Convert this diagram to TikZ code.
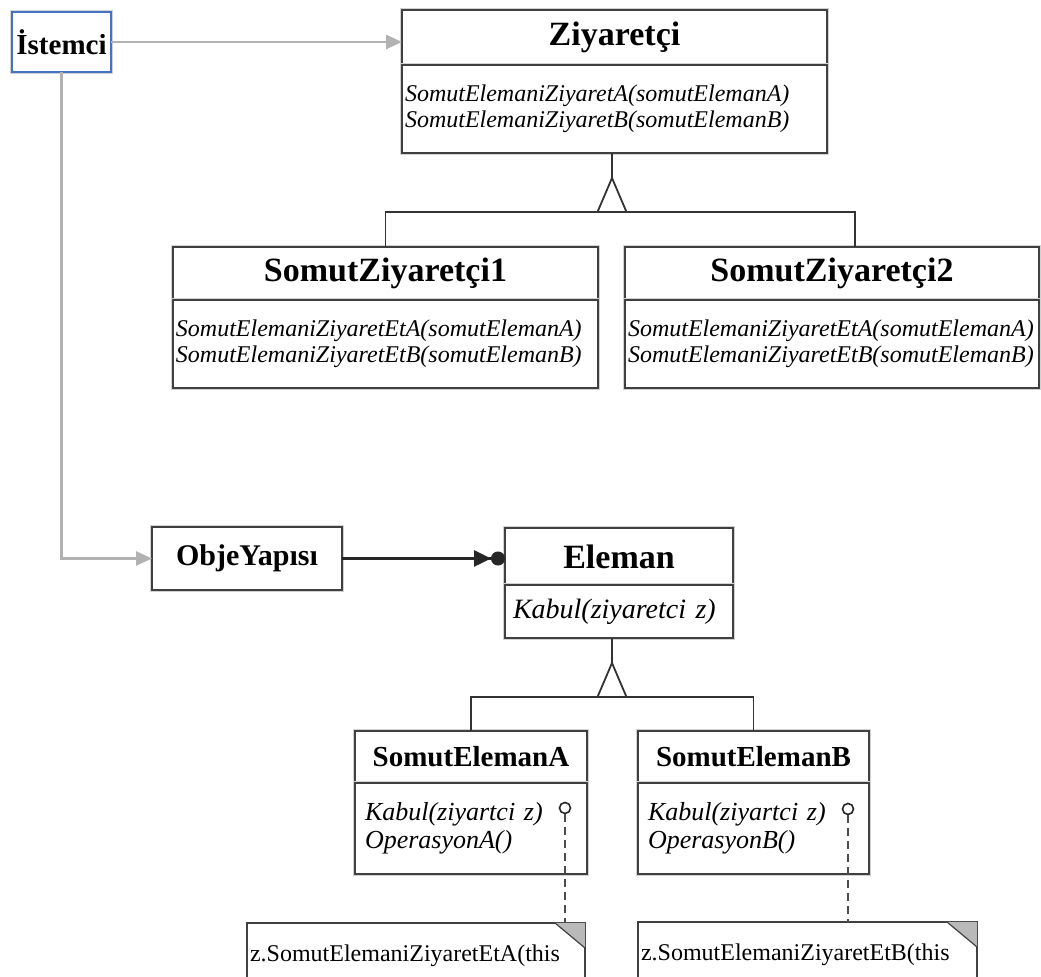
\documentclass[tikz,border=0pt]{standalone}
\usepackage{fontspec}
\setmainfont{Liberation Serif}
\usetikzlibrary{arrows.meta,positioning}
\definecolor{istblue}{RGB}{68,114,196}

\begin{document}
\begin{tikzpicture}[
  x=0.5pt, y=-0.5pt,
  halo/.style={preaction={draw=gray!35, line width=2pt}},
  clshead/.style={draw=black!75, line width=0.9pt, fill=white, halo, inner sep=0pt, outer sep=0pt,
    font=\bfseries\fontsize{17}{20}\selectfont},
  clsbody/.style={draw=black!75, line width=0.9pt, fill=white, halo, inner xsep=1.5pt, inner ysep=0pt,
    outer sep=0pt, align=left, font=\itshape\fontsize{12}{13}\selectfont},
  plainbox/.style={draw=black!75, line width=0.9pt, fill=white, halo, inner sep=0pt, outer sep=0pt,
    font=\bfseries\fontsize{15}{17}\selectfont},
  note/.style={draw=black!75, line width=0.9pt, fill=white, anchor=north west, inner xsep=1.5pt,
    outer sep=0pt, align=left, minimum height=33pt, font=\fontsize{12}{14}\selectfont},
  port/.style={circle, draw=black!85, fill=white, line width=0.8pt, inner sep=0pt, minimum size=5.5pt},
  assoc/.style={draw=gray!60, line width=1.3pt, -{Triangle[length=8pt,width=7pt]}},
  aggr/.style={draw=black!85, line width=1.3pt, -{Triangle[length=8.5pt,width=8pt]Circle[length=7pt]}},
  gen/.style={draw=black!80, line width=0.9pt},
  noteline/.style={draw=gray!60!black, line width=1.3pt, dash pattern=on 4pt off 2.5pt}
]
\useasboundingbox (0,0) rectangle (1041,977);
\clip (0,0) rectangle (1041,977);
\fill[white] (0,0) rectangle (1041,977);

% visitor side
\node[plainbox, draw=istblue, line width=0.6pt, minimum width=49.5pt, minimum height=30pt,
  font=\bfseries\fontsize{14.5}{17}\selectfont] (ist) at (61.5,42) {İstemci};

\node[clshead, minimum width=212.5pt, minimum height=27.5pt] (ziy) at (614.5,37.5) {Ziyaretçi};
\node[clsbody, below=0pt of ziy, text width=209.5pt, minimum height=44pt] (ziyb)
  {SomutElemaniZiyaretA(somutElemanA)\\SomutElemaniZiyaretB(somutElemanB)};

\node[clshead, minimum width=212.5pt, minimum height=26.5pt] (sz1) at (385.5,273.5) {SomutZiyaretçi1};
\node[clsbody, below=0pt of sz1, text width=209.5pt, minimum height=44pt] (sz1b)
  {SomutElemaniZiyaretEtA(somutElemanA)\\SomutElemaniZiyaretEtB(somutElemanB)};

\node[clshead, minimum width=207pt, minimum height=26.5pt] (sz2) at (832,273.5) {SomutZiyaretçi2};
\node[clsbody, below=0pt of sz2, text width=204pt, minimum height=44pt] (sz2b)
  {SomutElemaniZiyaretEtA(somutElemanA)\\SomutElemaniZiyaretEtB(somutElemanB)};

% element side
\node[plainbox, minimum width=95pt, minimum height=31.5pt] (obje) at (247,558.5) {ObjeYapısı};

\node[clshead, minimum width=114pt, minimum height=28.5pt] (elem) at (619,556.5) {Eleman};
\node[clsbody, below=0pt of elem, inner xsep=4pt, text width=106pt, minimum height=26.5pt,
  font=\itshape\fontsize{14}{16}\selectfont] (elemb) {Kabul(ziyaretci~z)};

\node[clshead, minimum width=116pt, minimum height=26pt, font=\bfseries\fontsize{14.5}{17}\selectfont] (sea) at (471,757) {SomutElemanA};
\node[clsbody, below=0pt of sea, inner xsep=5pt, text width=106pt, minimum height=45.5pt,
  font=\itshape\fontsize{13}{14}\selectfont] (seab) {Kabul(ziyartci z)\\OperasyonA()};

\node[clshead, minimum width=115.5pt, minimum height=26pt, font=\bfseries\fontsize{14.5}{17}\selectfont] (seb) at (753.5,757) {SomutElemanB};
\node[clsbody, below=0pt of seb, inner xsep=5pt, text width=105.5pt, minimum height=45.5pt,
  font=\itshape\fontsize{13}{14}\selectfont] (sebb) {Kabul(ziyartci z)\\OperasyonB()};

\node[note, text width=166pt] (noteA) at (247,923) {z.SomutElemaniZiyaretEtA(this};
\node[note, text width=166.5pt] (noteB) at (638,922) {z.SomutElemaniZiyaretEtB(this};

\foreach \n in {noteA,noteB} {
  \fill[gray!55] ([xshift=-15pt]\n.north east) -- (\n.north east) -- ([yshift=-12.5pt]\n.north east) -- cycle;
  \draw[black!75, line width=0.6pt] ([xshift=-15pt]\n.north east) -- ([yshift=-12.5pt]\n.north east);
}

\node[port] (circA) at (565,808) {};
\node[port] (circB) at (848,809) {};
\draw[noteline] (circA.south) -- (circA |- noteA.north);
\draw[noteline] (circB.south) -- (circB |- noteB.north);

% associations
\draw[assoc] (ist.east) -- (ist.east -| ziy.west);
\draw[assoc] (ist.south) |- (obje.west);
\draw[aggr] (obje.east) -- (obje.east -| elem.west);

% generalisation
\coordinate (zjoin) at (612,212);
\coordinate (sz2top) at ([xshift=11.5pt]sz2.north);
\draw[gen] (sz1.north) -- (sz1.north |- zjoin) -- (sz2top |- zjoin) -- (sz2top);
\coordinate (ejoin) at (612,697);
\draw[gen] (sea.north) -- (sea.north |- ejoin) -- (seb.north |- ejoin) -- (seb.north);

\foreach \j/\top in {zjoin/ziyb, ejoin/elemb} {
  \draw[gen, fill=white] (\j) ++(-14.5,0) -- ++(14.5,-34) -- ++(14.5,34) -- cycle;
  \draw[gen] (\j) ++(0,-34) -- (\j |- \top.south);
}

\end{tikzpicture}
\end{document}
